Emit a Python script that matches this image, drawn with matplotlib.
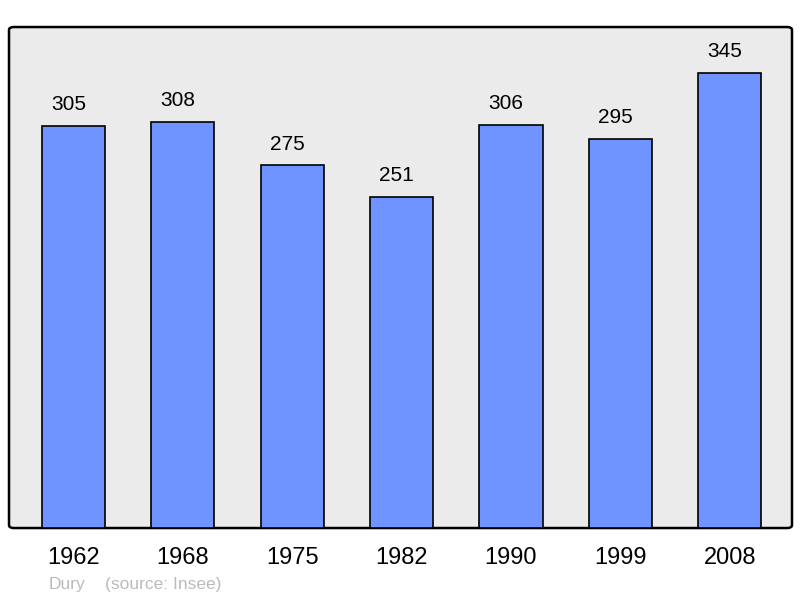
import matplotlib
matplotlib.use("Agg")
import matplotlib.pyplot as plt
from matplotlib.patches import FancyBboxPatch

plt.rcParams["font.family"] = ["Liberation Sans", "DejaVu Sans"]

# ── data ──────────────────────────────────────────────────────────────────────
years = ["1962", "1968", "1975", "1982", "1990", "1999", "2008"]
population = [305, 308, 275, 251, 306, 295, 345]
commune = "Dury"
source = "(source: Insee)"

BAR_COLOR = "#7094ff"
BG_COLOR = "#ebebeb"

fig = plt.figure(figsize=(8, 5.98), dpi=100)
ax = fig.add_axes([0.01125, 0.117, 0.97875, 0.8378])
ax.set_facecolor("none")

# rounded frame behind the bars
frame = FancyBboxPatch((0, 0), 1, 1, boxstyle="round,pad=0,rounding_size=0.006",
                       transform=ax.transAxes, facecolor=BG_COLOR,
                       edgecolor="black", linewidth=1.8, zorder=0, clip_on=False)
ax.add_patch(frame)

x = range(len(years))
bars = ax.bar(x, population, width=0.577, color=BAR_COLOR,
              edgecolor="black", linewidth=1.2, zorder=2)

for xi, v in zip(x, population):
    ax.annotate(str(v), (xi, v), xytext=(-3.5, 8.5), textcoords="offset points",
                ha="center", va="bottom", fontsize=15)

ax.set_xlim(-0.59, 6.57)
ax.set_ylim(0, 380)
ax.set_xticks(list(x))
ax.set_xticklabels(years, fontsize=17)
ax.tick_params(axis="x", length=0, pad=14)
ax.set_yticks([])
for s in ax.spines.values():
    s.set_visible(False)

fig.text(49 / 800, 1 - 585 / 598, commune, fontsize=12.5, color="#bbbbbb",
         ha="left", va="center")
fig.text(105 / 800, 1 - 585 / 598, source, fontsize=12.5, color="#bbbbbb",
         ha="left", va="center")

fig.savefig("out.png", dpi=100)
